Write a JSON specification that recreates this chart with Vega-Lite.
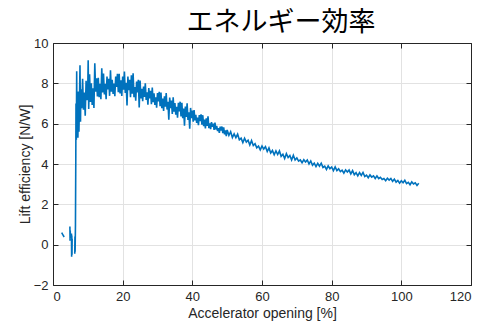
{
"$schema": "https://vega.github.io/schema/vega-lite/v6.json",
"width": 418, "height": 242,
"autosize": {"type": "none"},
"padding": {"left": 53, "top": 43, "right": 15, "bottom": 38},
"background": "white",
"title": {"text": "エネルギー効率", "fontSize": 27, "font": "Noto Sans CJK JP", "fontWeight": "normal", "color": "#000000", "anchor": "middle", "frame": "group", "dx": 19, "offset": 0},
"datasets": {
"main": [
{"s":0,"x":2.5,"y":0.6},{"s":0,"x":2.85,"y":0.48},{"s":0,"x":3.2,"y":0.38},
{"s":1,"x":4.85,"y":0.9},{"s":1,"x":4.9,"y":0.2},{"s":1,"x":4.95,"y":0.7},{"s":1,"x":5.0,"y":0.3},
{"s":2,"x":5.3,"y":0.55},{"s":2,"x":5.35,"y":-0.6},{"s":2,"x":5.4,"y":0.45},{"s":2,"x":5.45,"y":-0.5},{"s":2,"x":5.5,"y":0.3},
{"s":3,"x":6.25,"y":-0.45},{"s":3,"x":6.3,"y":0.4},{"s":3,"x":6.35,"y":-0.35},{"s":3,"x":6.45,"y":1.0},{"s":3,"x":6.55,"y":4.5},
{"s":3,"x":6.6,"y":7.0},{"s":3,"x":6.7,"y":5.2},{"s":3,"x":6.8,"y":8.6},{"s":3,"x":6.9,"y":5.5},{"s":3,"x":7.0,"y":7.4},
{"s":3,"x":7.15,"y":5.3},{"s":3,"x":7.3,"y":7.6},{"s":3,"x":7.45,"y":5.6},{"s":3,"x":7.6,"y":7.2},{"s":3,"x":7.75,"y":8.9},
{"s":3,"x":7.9,"y":6.1},{"s":3,"x":8.0,"y":7.7},{"s":3,"x":8.25,"y":6.76},{"s":3,"x":8.5,"y":8.23},{"s":3,"x":8.75,"y":6.69},
{"s":3,"x":9.0,"y":7.55},{"s":3,"x":9.25,"y":6.39},{"s":3,"x":9.5,"y":8.13},{"s":3,"x":9.75,"y":7.16},{"s":3,"x":10.0,"y":8.0},
{"s":3,"x":10.1,"y":9.15},{"s":3,"x":10.25,"y":6.73},{"s":3,"x":10.5,"y":8.45},{"s":3,"x":10.75,"y":7.08},{"s":3,"x":11.0,"y":8.0},
{"s":3,"x":11.25,"y":6.93},{"s":3,"x":11.5,"y":7.75},{"s":3,"x":11.75,"y":6.78},{"s":3,"x":12.0,"y":9.0},
{"s":3,"x":12.25,"y":7.58},{"s":3,"x":12.5,"y":8.25},{"s":3,"x":12.75,"y":7.35},{"s":3,"x":13.0,"y":8.27},{"s":3,"x":13.25,"y":7.31},
{"s":3,"x":13.5,"y":7.98},{"s":3,"x":13.75,"y":7.21},{"s":3,"x":14.0,"y":8.75},{"s":3,"x":14.25,"y":7.55},{"s":3,"x":14.5,"y":8.48},
{"s":3,"x":14.75,"y":7.45},{"s":3,"x":15.0,"y":7.98},{"s":3,"x":15.25,"y":7.21},{"s":3,"x":15.5,"y":8.34},{"s":3,"x":15.75,"y":7.7},
{"s":3,"x":16.0,"y":8.23},{"s":3,"x":16.25,"y":7.38},{"s":3,"x":16.5,"y":8.65},{"s":3,"x":16.75,"y":7.59},{"s":3,"x":17.0,"y":8.18},
{"s":3,"x":17.25,"y":7.47},{"s":3,"x":17.5,"y":7.99},{"s":3,"x":17.75,"y":7.36},{"s":3,"x":18.0,"y":8.34},{"s":3,"x":18.25,"y":7.82},
{"s":3,"x":18.5,"y":8.47},{"s":3,"x":18.75,"y":7.56},{"s":3,"x":19.0,"y":8.47},{"s":3,"x":19.25,"y":7.5},{"s":3,"x":19.5,"y":8.15},
{"s":3,"x":19.75,"y":7.37},{"s":3,"x":20.0,"y":8.34},{"s":3,"x":20.25,"y":7.68},{"s":3,"x":20.5,"y":8.58},{"s":3,"x":20.75,"y":7.52},
{"s":3,"x":21.0,"y":8.03},{"s":3,"x":21.25,"y":6.9},{"s":3,"x":21.5,"y":8.34},{"s":3,"x":21.75,"y":7.66},{"s":3,"x":22.0,"y":8.18},
{"s":3,"x":22.25,"y":7.31},{"s":3,"x":22.5,"y":8.4},{"s":3,"x":22.75,"y":7.48},{"s":3,"x":23.0,"y":8.5},{"s":3,"x":23.25,"y":7.31},
{"s":3,"x":23.5,"y":7.81},{"s":3,"x":23.75,"y":7.14},{"s":3,"x":24.0,"y":8.09},{"s":3,"x":24.25,"y":7.55},{"s":3,"x":24.5,"y":8.18},
{"s":3,"x":24.75,"y":6.8},{"s":3,"x":25.0,"y":8.14},
{"s":3,"x":25.25,"y":7.25},{"s":3,"x":25.5,"y":7.73},{"s":3,"x":25.75,"y":7.11},{"s":3,"x":26.0,"y":7.84},{"s":3,"x":26.25,"y":7.32},
{"s":3,"x":26.5,"y":8.0},{"s":3,"x":26.75,"y":7.18},{"s":3,"x":27.0,"y":7.56},{"s":3,"x":27.25,"y":6.94},{"s":3,"x":27.5,"y":7.77},
{"s":3,"x":27.75,"y":7.25},{"s":3,"x":28.0,"y":7.63},{"s":3,"x":28.25,"y":6.96},{"s":3,"x":28.5,"y":7.79},{"s":3,"x":28.75,"y":7.07},
{"s":3,"x":29.0,"y":7.5},{"s":3,"x":29.25,"y":6.93},{"s":3,"x":29.5,"y":7.31},{"s":3,"x":29.75,"y":6.79},{"s":3,"x":30.0,"y":7.52},
{"s":3,"x":30.25,"y":7.1},{"s":3,"x":30.5,"y":7.58},{"s":3,"x":30.75,"y":6.86},{"s":3,"x":31.0,"y":7.54},{"s":3,"x":31.25,"y":6.77},
{"s":3,"x":31.5,"y":7.25},{"s":3,"x":31.75,"y":6.63},{"s":3,"x":32.0,"y":7.36},{"s":3,"x":32.25,"y":6.84},{"s":3,"x":32.5,"y":7.52},
{"s":3,"x":32.75,"y":6.7},{"s":3,"x":33.0,"y":7.08},{"s":3,"x":33.25,"y":6.2},{"s":3,"x":33.5,"y":7.29},{"s":3,"x":33.75,"y":6.77},
{"s":3,"x":34.0,"y":7.15},{"s":3,"x":34.25,"y":6.48},{"s":3,"x":34.5,"y":7.31},{"s":3,"x":34.75,"y":6.59},{"s":3,"x":35.0,"y":7.02},
{"s":3,"x":35.25,"y":6.45},{"s":3,"x":35.5,"y":6.83},{"s":3,"x":35.75,"y":6.3},{"s":3,"x":36.0,"y":7.03},{"s":3,"x":36.25,"y":6.61},
{"s":3,"x":36.5,"y":7.09},{"s":3,"x":36.75,"y":6.36},{"s":3,"x":37.0,"y":7.04},{"s":3,"x":37.25,"y":6.27},{"s":3,"x":37.5,"y":6.75},
{"s":3,"x":37.75,"y":5.9},{"s":3,"x":38.0,"y":6.85},{"s":3,"x":38.25,"y":6.33},{"s":3,"x":38.5,"y":7.01},{"s":3,"x":38.75,"y":6.19},
{"s":3,"x":39.0,"y":6.57},{"s":3,"x":39.25,"y":5.75},{"s":3,"x":39.5,"y":6.78},{"s":3,"x":39.75,"y":6.27},{"s":3,"x":40.0,"y":6.65},
{"s":3,"x":40.25,"y":6.1},{"s":3,"x":40.5,"y":6.67},{"s":3,"x":40.75,"y":6.16},{"s":3,"x":41.0,"y":6.44},{"s":3,"x":41.25,"y":6.04},
{"s":3,"x":41.5,"y":6.3},{"s":3,"x":41.75,"y":5.92},{"s":3,"x":42.0,"y":6.43},{"s":3,"x":42.25,"y":6.13},{"s":3,"x":42.5,"y":6.46},
{"s":3,"x":42.75,"y":5.95},{"s":3,"x":43.0,"y":6.42},{"s":3,"x":43.25,"y":5.88},{"s":3,"x":43.5,"y":6.2},{"s":3,"x":43.75,"y":5.76},
{"s":3,"x":44.0,"y":6.26},{"s":3,"x":44.25,"y":5.89},{"s":3,"x":44.5,"y":6.36},{"s":3,"x":44.75,"y":5.78},{"s":3,"x":45.0,"y":6.01},
{"s":3,"x":45.25,"y":5.73},{"s":3,"x":45.5,"y":6.08},{"s":3,"x":45.75,"y":5.84},{"s":3,"x":46.0,"y":6.0},{"s":3,"x":46.25,"y":5.69},
{"s":3,"x":46.5,"y":6.05},{"s":3,"x":46.75,"y":5.71},{"s":3,"x":47.0,"y":5.89},{"s":3,"x":47.25,"y":5.63},{"s":3,"x":47.5,"y":5.78},
{"s":3,"x":47.75,"y":5.54},{"s":3,"x":48.0,"y":5.85},{"s":3,"x":48.25,"y":5.66},{"s":3,"x":48.5,"y":5.86},{"s":3,"x":48.75,"y":5.53},
{"s":3,"x":49.0,"y":5.82},{"s":3,"x":49.25,"y":5.47},{"s":3,"x":49.5,"y":5.67},{"s":3,"x":49.75,"y":5.38},{"s":3,"x":50.0,"y":5.69},
{"s":3,"x":50.5,"y":5.42},{"s":3,"x":51.0,"y":5.6},{"s":3,"x":51.5,"y":5.31},{"s":3,"x":52.0,"y":5.49},{"s":3,"x":52.5,"y":5.31},
{"s":3,"x":53.0,"y":5.48},{"s":3,"x":53.5,"y":5.2},{"s":3,"x":54.0,"y":5.28},{"s":3,"x":54.5,"y":5.06},{"s":3,"x":55.0,"y":5.28},
{"s":3,"x":55.5,"y":5.09},{"s":3,"x":56.0,"y":5.18},{"s":3,"x":56.5,"y":4.94},{"s":3,"x":57.0,"y":5.16},{"s":3,"x":57.5,"y":4.92},
{"s":3,"x":58.0,"y":5.01},{"s":3,"x":58.5,"y":4.8},{"s":3,"x":59.0,"y":4.89},{"s":3,"x":59.5,"y":4.7},{"s":3,"x":60.0,"y":4.89},
{"s":3,"x":60.5,"y":4.74},{"s":3,"x":61.0,"y":4.86},{"s":3,"x":61.5,"y":4.62},{"s":3,"x":62.0,"y":4.8},{"s":3,"x":62.5,"y":4.55},
{"s":3,"x":63.0,"y":4.67},{"s":3,"x":63.5,"y":4.46},{"s":3,"x":64.0,"y":4.65},{"s":3,"x":64.5,"y":4.47},{"s":3,"x":65.0,"y":4.65},
{"s":3,"x":65.5,"y":4.38},{"s":3,"x":66.0,"y":4.48},{"s":3,"x":66.5,"y":4.27},{"s":3,"x":67.0,"y":4.51},{"s":3,"x":67.5,"y":4.32},
{"s":3,"x":68.0,"y":4.42},{"s":3,"x":68.5,"y":4.2},{"s":3,"x":69.0,"y":4.43},{"s":3,"x":69.5,"y":4.2},{"s":3,"x":70.0,"y":4.3},
{"s":3,"x":70.5,"y":4.14},{"s":3,"x":71.0,"y":4.2},{"s":3,"x":71.5,"y":4.06},{"s":3,"x":72.0,"y":4.21},{"s":3,"x":72.5,"y":4.1},
{"s":3,"x":73.0,"y":4.2},{"s":3,"x":73.5,"y":4.0},{"s":3,"x":74.0,"y":4.15},{"s":3,"x":74.5,"y":3.94},{"s":3,"x":75.0,"y":4.04},
{"s":3,"x":75.5,"y":3.87},{"s":3,"x":76.0,"y":4.03},{"s":3,"x":76.5,"y":3.89},{"s":3,"x":77.0,"y":4.04},{"s":3,"x":77.5,"y":3.83},
{"s":3,"x":78.0,"y":3.89},{"s":3,"x":78.5,"y":3.73},{"s":3,"x":79.0,"y":3.91},{"s":3,"x":79.5,"y":3.77},{"s":3,"x":80.0,"y":3.85},
{"s":3,"x":80.5,"y":3.67},{"s":3,"x":81.0,"y":3.86},{"s":3,"x":81.5,"y":3.67},{"s":3,"x":82.0,"y":3.76},{"s":3,"x":82.5,"y":3.62},
{"s":3,"x":83.0,"y":3.69},{"s":3,"x":83.5,"y":3.55},{"s":3,"x":84.0,"y":3.71},{"s":3,"x":84.5,"y":3.6},{"s":3,"x":85.0,"y":3.7},
{"s":3,"x":85.5,"y":3.51},{"s":3,"x":86.0,"y":3.67},{"s":3,"x":86.5,"y":3.47},{"s":3,"x":87.0,"y":3.57},{"s":3,"x":87.5,"y":3.41},
{"s":3,"x":88.0,"y":3.57},{"s":3,"x":88.5,"y":3.43},{"s":3,"x":89.0,"y":3.58},{"s":3,"x":89.5,"y":3.38},{"s":3,"x":90.0,"y":3.45},
{"s":3,"x":90.5,"y":3.32},{"s":3,"x":91.0,"y":3.46},{"s":3,"x":91.5,"y":3.35},{"s":3,"x":92.0,"y":3.41},{"s":3,"x":92.5,"y":3.28},
{"s":3,"x":93.0,"y":3.41},{"s":3,"x":93.5,"y":3.28},{"s":3,"x":94.0,"y":3.34},{"s":3,"x":94.5,"y":3.23},{"s":3,"x":95.0,"y":3.28},
{"s":3,"x":95.5,"y":3.17},{"s":3,"x":96.0,"y":3.29},{"s":3,"x":96.5,"y":3.2},{"s":3,"x":97.0,"y":3.28},{"s":3,"x":97.5,"y":3.14},
{"s":3,"x":98.0,"y":3.25},{"s":3,"x":98.5,"y":3.1},{"s":3,"x":99.0,"y":3.18},{"s":3,"x":99.5,"y":3.05},{"s":3,"x":100.0,"y":3.17},
{"s":3,"x":100.5,"y":3.07},{"s":3,"x":101.0,"y":3.19},{"s":3,"x":101.5,"y":3.03},{"s":3,"x":102.0,"y":3.09},{"s":3,"x":102.5,"y":2.97},
{"s":3,"x":103.0,"y":3.11},{"s":3,"x":103.5,"y":3.01},{"s":3,"x":104.0,"y":3.07},{"s":3,"x":104.5,"y":2.94},{"s":3,"x":105.0,"y":3.05}
],
"frame": [{"x": 0, "y": -2}, {"x": 120, "y": 10}]
},
"layer": [
{
"data": {"name": "frame"},
"mark": {"type": "point", "opacity": 0},
"encoding": {
"x": {"field": "x", "type": "quantitative", "scale": {"domain": [0, 120], "nice": false, "zero": false},
"axis": {"orient": "top", "values": [0,20,40,60,80,100,120], "labels": false, "grid": false, "tickSize": -5, "tickColor": "#262626", "domainColor": "#262626", "title": null}},
"y": {"field": "y", "type": "quantitative", "scale": {"domain": [-2, 10], "nice": false, "zero": false},
"axis": {"orient": "right", "values": [-2,0,2,4,6,8,10], "labels": false, "grid": false, "tickSize": -5, "tickColor": "#262626", "domainColor": "#262626", "title": null}}
}
},
{
"data": {"name": "main"},
"mark": {"type": "line", "color": "#0072BD", "strokeWidth": 1.6, "clip": true},
"encoding": {
"x": {"field": "x", "type": "quantitative", "scale": {"domain": [0, 120], "nice": false, "zero": false},
"axis": {"orient": "bottom", "values": [0,20,40,60,80,100,120], "grid": true, "gridColor": "#e2e2e2", "tickSize": -5, "tickColor": "#262626", "domainColor": "#262626", "labelColor": "#262626", "labelFont": "Liberation Sans", "labelFontSize": 13, "labelPadding": 10, "title": "Accelerator opening [%]", "titleFont": "Liberation Sans", "titleFontSize": 14, "titleFontWeight": "normal", "titleColor": "#262626", "titlePadding": 3}},
"y": {"field": "y", "type": "quantitative", "scale": {"domain": [-2, 10], "nice": false, "zero": false},
"axis": {"orient": "left", "values": [-2,0,2,4,6,8,10], "grid": true, "gridColor": "#e2e2e2", "tickSize": -5, "tickColor": "#262626", "domainColor": "#262626", "labelColor": "#262626", "labelFont": "Liberation Sans", "labelFontSize": 13, "labelPadding": 10, "title": "Lift efficiency [N/W]", "titleFont": "Liberation Sans", "titleFontSize": 14, "titleFontWeight": "normal", "titleColor": "#262626", "titlePadding": 1}},
"detail": {"field": "s", "type": "nominal"}
}
}
],
"resolve": {"axis": {"x": "independent", "y": "independent"}},
"config": {"view": {"stroke": null}}
}
